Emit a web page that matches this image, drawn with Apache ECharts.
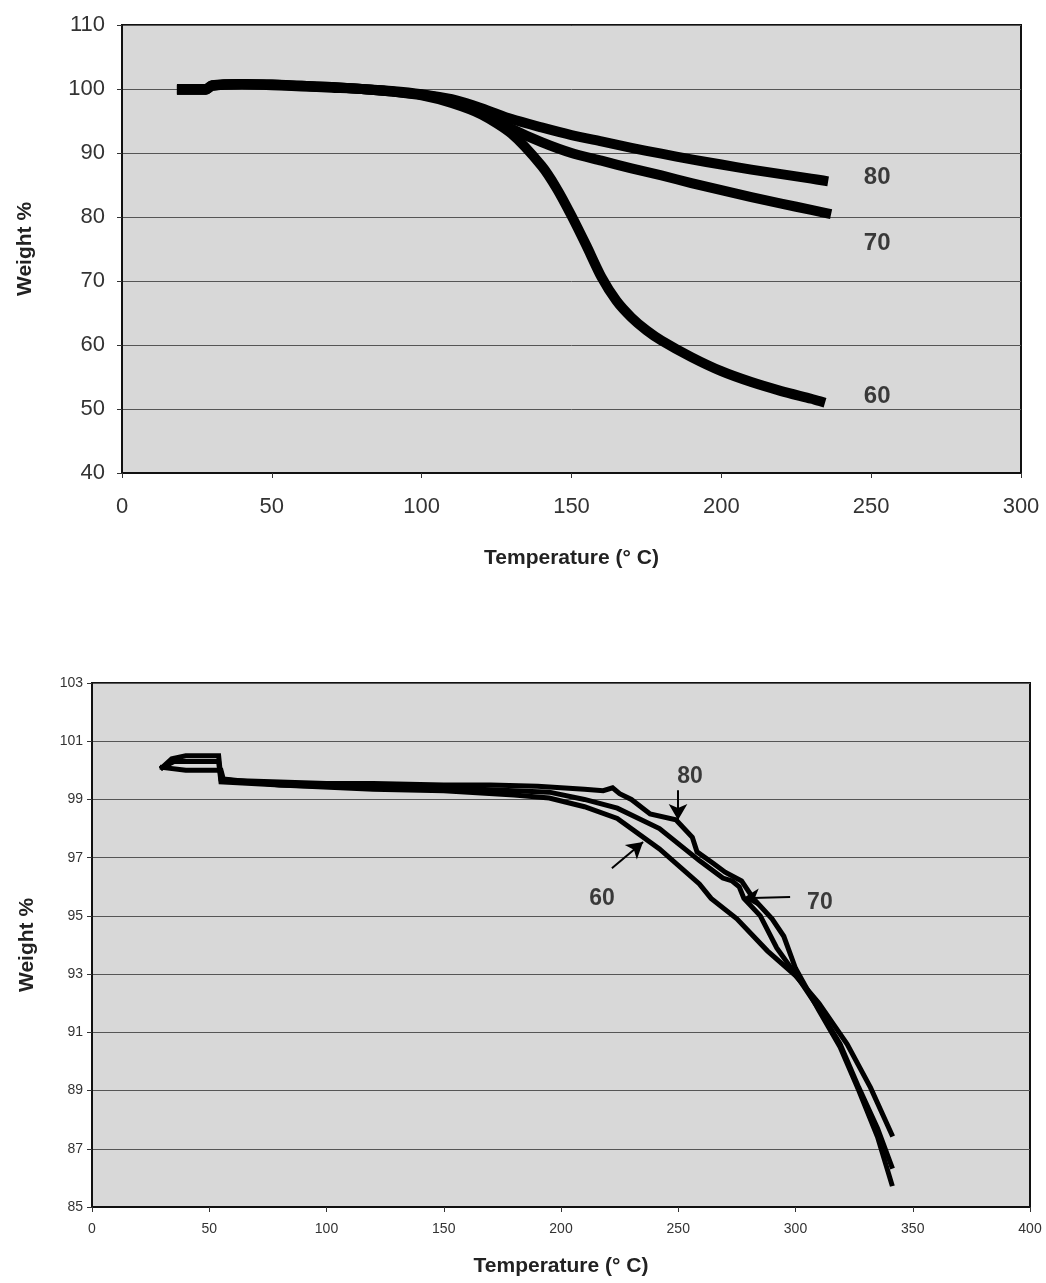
<!DOCTYPE html>
<html><head><meta charset="utf-8">
<script src="https://cdn.jsdelivr.net/npm/echarts@6/dist/echarts.min.js"></script>
<style>html,body{margin:0;padding:0;background:#fff}#c{width:1046px;height:1283px}</style>
</head><body><div id="c"></div>
<script>
// ---------- Top panel data ----------
const top60T=[20,28,30,40,50,60,70,80,90,100,110,120,130,140,145,150,155,160,165,170,175,180,190,200,210,220,230,233];
const top60W=[99.9,99.9,100.5,100.7,100.7,100.5,100.3,100.0,99.6,99.0,97.8,96.0,93.0,88.0,84.5,80.2,75.5,70.6,66.9,64.3,62.3,60.7,58.1,55.9,54.2,52.8,51.6,51.2];
const top70T=[20,28,30,40,50,60,70,80,90,100,110,120,130,140,150,160,170,180,190,200,210,220,230,235];
const top70W=[99.9,99.9,100.5,100.8,100.6,100.4,100.2,100.0,99.6,99.1,98.2,96.4,93.8,91.7,90.0,88.8,87.6,86.5,85.3,84.2,83.1,82.1,81.1,80.6];
const top80T=[20,28,30,40,50,60,70,80,90,100,110,120,130,140,150,160,170,180,190,200,210,220,230,234];
const top80W=[100,100,100.6,100.8,100.7,100.5,100.3,100,99.7,99.2,98.4,97.0,95.3,94.0,92.8,91.8,90.8,89.9,89.0,88.2,87.4,86.7,86.0,85.7];
const topLabels=['80','70','60'];
const topLabelT=[252,252,252];
const topLabelW=[86.2,75.9,51.9];

// ---------- Bottom panel data ----------
const bot80T=[30,34,40,50,54,55,60,80,100,120,150,170,190,200,210,218,222,225,230,238,249,256,258,265,270,277,282,290,295,300,310,319,327,335,341];
const bot80W=[100.1,100.4,100.5,100.5,100.5,99.7,99.65,99.6,99.55,99.55,99.5,99.5,99.45,99.4,99.35,99.3,99.4,99.2,99.0,98.5,98.3,97.7,97.2,96.8,96.5,96.2,95.6,94.9,94.3,93.2,91.75,90.5,89.0,87.4,85.8];
const bot70T=[30,35,40,50,54,55,80,120,150,180,195,210,224,242,259,269,273,276,278,285,292,300,310,319,327,335,341];
const bot70W=[100.1,100.3,100.3,100.3,100.3,99.6,99.5,99.4,99.4,99.3,99.25,99.0,98.7,98.0,96.9,96.3,96.2,96.0,95.6,95.0,93.9,93.0,91.8,90.6,89.1,87.7,86.4];
const bot60T=[30,40,50,55,56,80,120,150,180,195,210,224,242,259,264,275,288,300,310,322,332,341];
const bot60W=[100.1,100.0,100.0,100.0,99.7,99.5,99.35,99.3,99.15,99.05,98.75,98.35,97.3,96.1,95.6,94.9,93.8,92.95,92.0,90.6,89.1,87.5];
const botLabels=['80','60','70'];
const botLabelT=[255,217.5,310.4];
const botLabelW=[99.77,95.6,95.44];
const botArrowFromT=[249.9,221.7,297.7];
const botArrowFromW=[99.32,96.64,95.65];
const botArrowToT=[249.9,235,277.6];
const botArrowToW=[98.29,97.54,95.61];

const FONT='Liberation Sans, Arial, sans-serif';
const zip=(a,b)=>a.map((v,i)=>[v,b[i]]);

const chart=echarts.init(document.getElementById('c'),null,{renderer:'canvas'});

function lineSeries(xi,T,W,width,smooth){
  return {type:'line',xAxisIndex:xi,yAxisIndex:xi,data:zip(T,W),showSymbol:false,smooth:smooth,
    lineStyle:{color:'#000',width:width,cap:'square',join:'miter'},z:3,silent:true};
}

const series=[
  lineSeries(0,top60T,top60W,10,0.25),
  lineSeries(0,top70T,top70W,10,0.25),
  lineSeries(0,top80T,top80W,10,0.25),
  lineSeries(1,bot60T,bot60W,5,false),
  lineSeries(1,bot70T,bot70W,5,false),
  lineSeries(1,bot80T,bot80W,5,false),
  {type:'scatter',xAxisIndex:0,yAxisIndex:0,symbolSize:0,silent:true,
   data:topLabels.map((l,i)=>({value:[topLabelT[i],topLabelW[i]],label:{show:true,formatter:l,position:'inside',fontSize:24,fontWeight:'bold',color:'#111',fontFamily:FONT}}))},
  {type:'scatter',xAxisIndex:1,yAxisIndex:1,symbolSize:0,silent:true,
   data:botLabels.map((l,i)=>({value:[botLabelT[i],botLabelW[i]],label:{show:true,formatter:l,position:'inside',fontSize:23,fontWeight:'bold',color:'#111',fontFamily:FONT}})),
   markLine:{silent:true,symbol:['none','arrow'],symbolSize:[14,16],animation:false,
     lineStyle:{color:'#000',width:2,type:'solid'},label:{show:false},
     data:botArrowFromT.map((t,i)=>[{coord:[t,botArrowFromW[i]]},{coord:[botArrowToT[i],botArrowToW[i]]}])}}
];

function xAx(gi,max,fs,margin,name,nameGap){
  return {type:'value',gridIndex:gi,min:0,max:max,interval:50,
    axisLine:{show:true,onZero:false,lineStyle:{color:'#111',width:2}},
    axisTick:{show:true,length:5,lineStyle:{color:'#333'}},
    splitLine:{show:false},
    axisLabel:{fontSize:fs,color:'#333',margin:margin,fontFamily:FONT},
    name:name,nameLocation:'middle',nameGap:nameGap,
    nameTextStyle:{fontSize:21,fontWeight:'bold',color:'#222',fontFamily:FONT}};
}
function yAx(gi,min,max,interval,fs,margin,nameGap){
  return {type:'value',gridIndex:gi,min:min,max:max,interval:interval,
    axisLine:{show:true,onZero:false,lineStyle:{color:'#111',width:2}},
    axisTick:{show:true,length:5,lineStyle:{color:'#333'}},
    splitLine:{show:true,lineStyle:{color:'#555',width:1}},
    axisLabel:{fontSize:fs,color:'#333',margin:margin,fontFamily:FONT},
    name:'Weight %',nameLocation:'middle',nameGap:nameGap,
    nameTextStyle:{fontSize:21,fontWeight:'bold',color:'#222',fontFamily:FONT}};
}

chart.setOption({
  animation:false,
  backgroundColor:'#fff',
  grid:[
    {left:122,top:25,width:899,height:448,show:true,backgroundColor:'#d8d8d8',borderColor:'#111',borderWidth:2},
    {left:92,top:683,width:938,height:524,show:true,backgroundColor:'#d8d8d8',borderColor:'#111',borderWidth:2}
  ],
  xAxis:[xAx(0,300,22,23,'Temperature (° C)',75), xAx(1,400,14,15,'Temperature (° C)',49)],
  yAxis:[yAx(0,40,110,10,22,17,86), yAx(1,85,103,2,14,9,54)],
  series:series
});
</script></body></html>
